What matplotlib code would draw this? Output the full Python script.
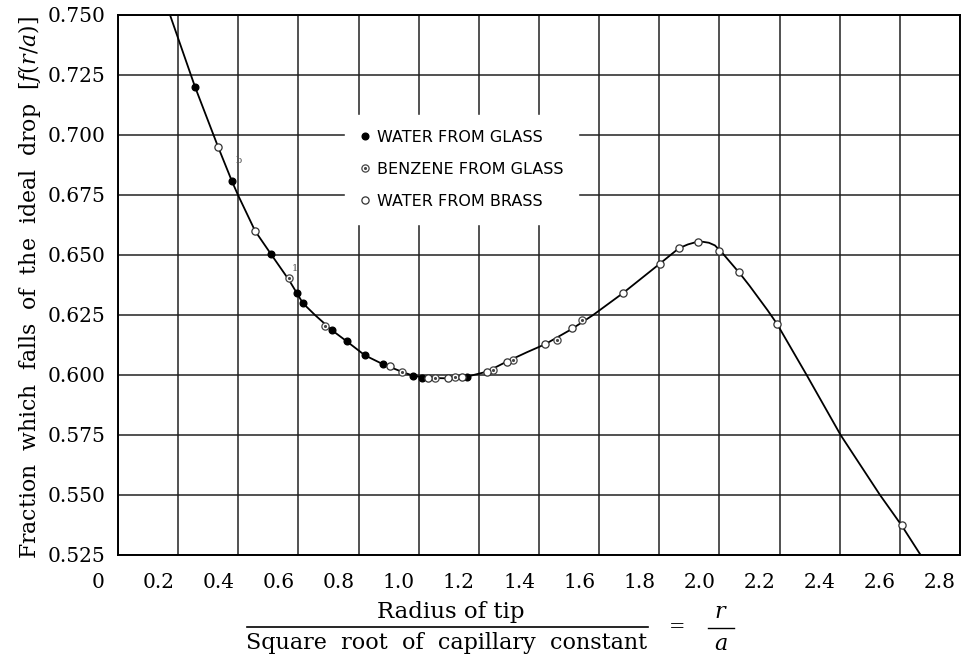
import matplotlib.pyplot as plt
import matplotlib.transforms as mtransforms
from matplotlib.lines import Line2D

plt.rcParams['mathtext.fontset'] = 'dejavuserif'

# smooth curve (x = r/a, y = f(r/a))
curve_x = [0.173, 0.256, 0.333, 0.379, 0.399, 0.456, 0.508, 0.569, 0.615, 0.655,
           0.712, 0.761, 0.821, 0.881, 0.943, 0.981, 1.030, 1.100, 1.160, 1.227,
           1.293, 1.360, 1.420, 1.507, 1.580, 1.679, 1.802, 1.865, 1.895, 1.920,
           1.945, 1.965, 1.985, 2.010, 2.040, 2.070, 2.100, 2.160, 2.191, 2.240,
           2.290, 2.403, 2.534, 2.606, 2.669]
curve_y = [0.7500, 0.7201, 0.6950, 0.6807, 0.6750, 0.6600, 0.6505, 0.6395, 0.6299, 0.6250,
           0.6186, 0.6140, 0.6082, 0.6045, 0.6014, 0.5997, 0.5988, 0.5986, 0.5993, 0.6014,
           0.6056, 0.6095, 0.6128, 0.6190, 0.6250, 0.6341, 0.6464, 0.6528, 0.6544, 0.6553,
           0.6555, 0.6551, 0.6540, 0.6508, 0.6464, 0.6420, 0.6372, 0.6270, 0.6214, 0.6108,
           0.6000, 0.5750, 0.5500, 0.5373, 0.5250]

# water from glass (filled)
wg_x = [0.256, 0.379, 0.508, 0.595, 0.615, 0.712, 0.761, 0.821, 0.881, 0.981, 1.010, 1.160]
wg_y = [0.7201, 0.6807, 0.6505, 0.6341, 0.6299, 0.6186, 0.6140, 0.6082, 0.6045, 0.5996, 0.5986, 0.5993]

# benzene from glass (dotted circle)
bg_x = [0.569, 0.688, 0.943, 1.053, 1.121, 1.247, 1.314, 1.459, 1.542]
bg_y = [0.6404, 0.6203, 0.6014, 0.5986, 0.5990, 0.6021, 0.6062, 0.6146, 0.6228]

# water from brass (open)
wb_x = [0.333, 0.456, 0.905, 1.031, 1.097, 1.143, 1.227, 1.293, 1.420, 1.509,
        1.679, 1.802, 1.865, 1.930, 1.997, 2.064, 2.191, 2.606]
wb_y = [0.6950, 0.6600, 0.6037, 0.5986, 0.5986, 0.5990, 0.6014, 0.6056, 0.6128, 0.6194,
        0.6341, 0.6464, 0.6528, 0.6554, 0.6517, 0.6430, 0.6214, 0.5373]

x_ticks = [0, 0.2, 0.4, 0.6, 0.8, 1.0, 1.2, 1.4, 1.6, 1.8, 2.0, 2.2, 2.4, 2.6, 2.8]
x_labels = ['0', '0.2', '0.4', '0.6', '0.8', '1.0', '1.2', '1.4', '1.6', '1.8',
            '2.0', '2.2', '2.4', '2.6', '2.8']
y_ticks = [0.525, 0.550, 0.575, 0.600, 0.625, 0.650, 0.675, 0.700, 0.725, 0.750]
y_labels = ['0.525', '0.550', '0.575', '0.600', '0.625', '0.650', '0.675', '0.700', '0.725', '0.750']

serif = 'DejaVu Serif'

fig = plt.figure(figsize=(9.77, 6.57), dpi=100)
ax = fig.add_axes([118 / 977, 102 / 657, 842 / 977, 540 / 657])

ax.plot(curve_x, curve_y, color='black', lw=1.3, zorder=3)
ax.plot(wg_x, wg_y, 'o', ms=4.8, mfc='black', mec='black', zorder=4)
ax.plot(bg_x, bg_y, 'o', ms=5.2, mfc='white', mec='#444444', mew=0.9, zorder=4)
ax.plot(bg_x, bg_y, '.', ms=2.5, color='#444444', zorder=5)
ax.plot(wb_x, wb_y, 'o', ms=5.2, mfc='white', mec='#333333', mew=0.9, zorder=4)

# little pencil marks beside two points
ax.text(0.578, 0.6435, '1', fontsize=7, color='#555555', family=serif)
ax.text(0.39, 0.6885, 'b', fontsize=7, color='#555555', family=serif)

ax.set_xlim(0, 2.8)
ax.set_ylim(0.525, 0.750)
ax.set_xticks(x_ticks)
ax.set_xticklabels([])
ax.set_yticks(y_ticks)
ax.set_yticklabels(y_labels, fontsize=14.5, family=serif)
ax.tick_params(length=0)
ax.tick_params(axis='y', pad=9)
ax.grid(True, color='#222222', lw=1.1)
ax.set_axisbelow(True)
for s in ax.spines.values():
    s.set_linewidth(1.4)

# x tick labels sit about 20 px left of their grid lines in the original print
shift = mtransforms.ScaledTranslation(-20 / 100, -27 / 100, fig.dpi_scale_trans)
trans = mtransforms.blended_transform_factory(ax.transData, ax.transAxes) + shift
for v, lab in zip(x_ticks, x_labels):
    ax.text(v, 0, lab, transform=trans, ha='center', va='center',
            fontsize=14.5, family=serif)

# legend
h_wg = Line2D([], [], ls='', marker='o', ms=4.8, mfc='black', mec='black')
h_bg = (Line2D([], [], ls='', marker='o', ms=5.2, mfc='white', mec='#444444', mew=0.9),
        Line2D([], [], ls='', marker='.', ms=2.5, color='#444444'))
h_wb = Line2D([], [], ls='', marker='o', ms=5.2, mfc='white', mec='#333333', mew=0.9)
leg = ax.legend([h_wg, h_bg, h_wb],
                ['WATER FROM GLASS', 'BENZENE FROM GLASS', 'WATER FROM BRASS'],
                loc='upper left', bbox_to_anchor=(345 / 977, 1 - 115 / 657),
                bbox_transform=fig.transFigure, borderaxespad=0,
                frameon=True, fancybox=False, framealpha=1, edgecolor='white',
                handlelength=0.65, handletextpad=0.4, labelspacing=1.06,
                borderpad=0.94,
                prop={'family': 'DejaVu Sans', 'size': 11.5})

# axis titles
fig.text(30 / 977, 1 - 288 / 657, 'Fraction  which  falls  of  the  ideal  drop  [$f(r/a)$]',
         rotation=90, ha='center', va='center', fontsize=15.8, family=serif)
fig.text(451 / 977, 1 - 612 / 657, 'Radius of tip', ha='center', va='center',
         fontsize=16.5, family=serif)
fig.add_artist(Line2D([247 / 977, 648 / 977], [1 - 627 / 657] * 2, lw=1.2, color='black'))
fig.text(447 / 977, 1 - 643 / 657, 'Square  root  of  capillary  constant', ha='center',
         va='center', fontsize=16, family=serif)
fig.text(677 / 977, 1 - 627 / 657, '=', ha='center', va='center', fontsize=14, family=serif)
fig.text(721 / 977, 1 - 612 / 657, '$r$', ha='center', va='center', fontsize=16)
fig.add_artist(Line2D([708 / 977, 734 / 977], [1 - 628 / 657] * 2, lw=1.0, color='black'))
fig.text(721 / 977, 1 - 644 / 657, '$a$', ha='center', va='center', fontsize=16)

fig.savefig('out.png', dpi=100)
